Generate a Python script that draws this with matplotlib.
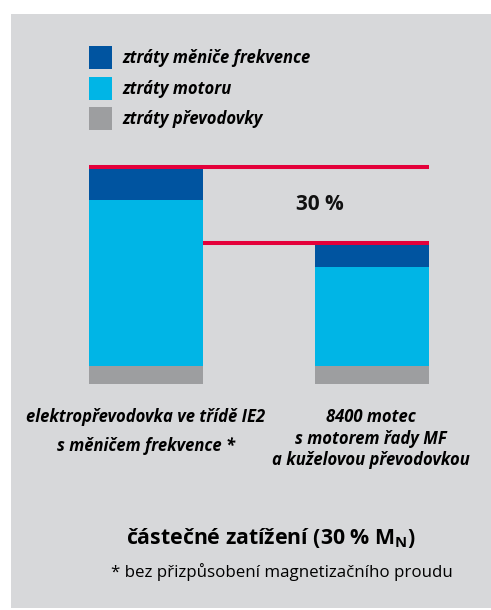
import matplotlib
matplotlib.use("Agg")
import matplotlib.pyplot as plt
from matplotlib.patches import Rectangle

plt.rcParams['font.family'] = ['Open Sans', 'DejaVu Sans']

# Data (relative loss values)
categories = ["elektropřevodovka ve třídě IE2\ns měničem frekvence *",
              "8400 motec\ns motorem řady MF\na kuželovou převodovkou"]
gear_losses = [18, 18]
motor_losses = [166, 99]
inverter_losses = [31, 22]
series_labels = ["ztráty měniče frekvence", "ztráty motoru", "ztráty převodovky"]
saving_label = "30 %"
title = "částečné zatížení (30 % M$_\\mathregular{N}$)"
footnote = "* bez přizpůsobení magnetizačního proudu"

C_DARK = "#0054A0"
C_CYAN = "#00B5E6"
C_GRAY = "#9D9EA0"
C_BG = "#D7D8DA"
C_RED = "#E4003A"

W, H = 491, 610
fig = plt.figure(figsize=(W / 100, H / 100), dpi=100)
fig.patch.set_facecolor("white")

def fx(px):
    return px / W

def fy(py):
    return 1 - py / H

# gray panel
fig.patches.append(Rectangle((fx(11), fy(608)), fx(491) - fx(11), fy(14) - fy(608),
                             transform=fig.transFigure, facecolor=C_BG, edgecolor="none", zorder=-5))

ax = fig.add_axes([fx(89), fy(384), fx(429) - fx(89), fy(150) - fy(384)])
ax.set_zorder(2)
ax.set_facecolor("none")
ax.axis("off")

x = [0, 1]
bw = 0.504
b1 = ax.bar(x, gear_losses, width=bw, color=C_GRAY, label=series_labels[2], zorder=2)
b2 = ax.bar(x, motor_losses, width=bw, bottom=gear_losses, color=C_CYAN, label=series_labels[1], zorder=2)
bottoms = [g + m for g, m in zip(gear_losses, motor_losses)]
b3 = ax.bar(x, inverter_losses, width=bw, bottom=bottoms, color=C_DARK, label=series_labels[0], zorder=2)
totals = [b + i for b, i in zip(bottoms, inverter_losses)]

ax.set_xlim(-bw / 2, 1 + bw / 2)
ax.set_ylim(0, 234)

# red reference lines (sitting on top of the bars)
off = 2.0
ax.plot([-bw / 2, 1 + bw / 2], [totals[0] + off] * 2, color=C_RED, lw=2.9, solid_capstyle="butt", zorder=3)
ax.plot([bw / 2, 1 + bw / 2], [totals[1] + off] * 2, color=C_RED, lw=2.9, solid_capstyle="butt", zorder=3)
ax.text(0.77, (totals[0] + totals[1]) / 2 + off, saving_label, ha="center", va="center",
        fontsize=15, fontweight="bold", color="#111111")

# category labels
lab_kw = dict(ha="center", va="center", fontsize=12, fontweight="bold", fontstyle="italic")
for i, yy in enumerate([417, 446]):
    fig.text(fx(146), fy(yy), categories[0].split("\n")[i], **lab_kw)
for i, yy in enumerate([417, 438.5, 460]):
    fig.text(fx(371), fy(yy), categories[1].split("\n")[i], **lab_kw)

# legend
leg = fig.legend(handles=[b3, b2, b1], labels=series_labels, loc="upper left",
                 bbox_to_anchor=(fx(89), fy(46)), frameon=False, borderpad=0,
                 fontsize=12, handlelength=1.38, handleheight=1.76, labelspacing=0.45,
                 handletextpad=0.64, borderaxespad=0)
for t in leg.get_texts():
    t.set_fontweight("bold")
    t.set_fontstyle("italic")

fig.text(fx(271), fy(538), title, ha="center", va="center", fontsize=15.3, fontweight="bold")
fig.text(fx(282), fy(572), footnote, ha="center", va="center", fontsize=12.2)

fig.savefig("out.png", dpi=100, facecolor="white")
